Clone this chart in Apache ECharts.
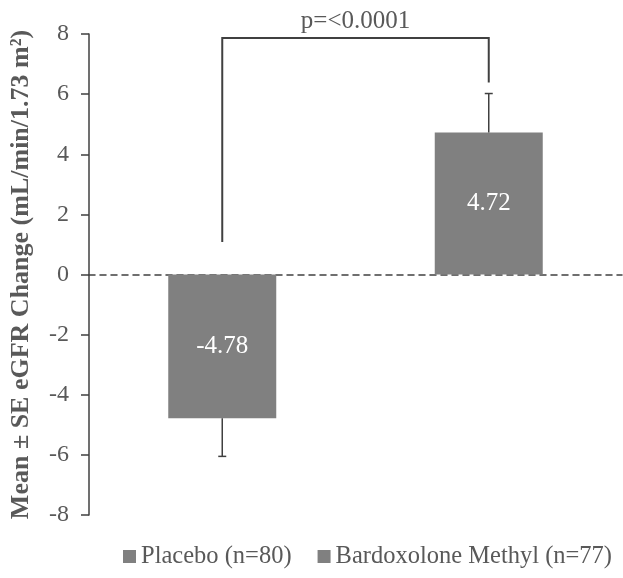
<!DOCTYPE html>
<html>
<head>
<meta charset="utf-8">
<script src="https://cdn.jsdelivr.net/npm/echarts@6/dist/echarts.min.js"></script>
<style>
  html, body { margin: 0; padding: 0; background: #fff; }
  #chart { width: 623px; height: 578px; }
</style>
</head>
<body>
<div id="chart"></div>
<script>
// categories / groups
const categories = ['Placebo (n=80)', 'Bardoxolone Methyl (n=77)']
// mean eGFR change
const means = [-4.78, 4.72]
// end of SE whisker
const seEnds = [-6.05, 6.02]
// significance bracket: left foot, top, right foot (y values)
const bracket = [1.08, 7.87, 6.39]
const pLabel = 'p=<0.0001'
const yTicks = { min: -8, max: 8, interval: 2 }

const serif = 'Liberation Serif'
const textGray = '#595959'
const lineGray = '#404040'
const barGray = '#808080'

const errData = means.map((m, i) => [i, m, seEnds[i]])

const options = {
  animation: false,
  grid: { left: 85, right: 1, top: 34, bottom: 63 },
  legend: {
    data: categories,
    left: 118,
    top: 539,
    width: 520,
    itemWidth: 13,
    itemHeight: 13,
    itemGap: 26,
    icon: 'rect',
    textStyle: { fontFamily: serif, fontSize: 24.5, color: textGray }
  },
  xAxis: {
    type: 'category',
    data: categories,
    axisLine: {
      onZero: true,
      lineStyle: { color: lineGray, width: 1.5, type: [6, 5] }
    },
    axisTick: { show: false },
    axisLabel: { show: false },
    splitLine: { show: false }
  },
  yAxis: {
    type: 'value',
    min: yTicks.min,
    max: yTicks.max,
    interval: yTicks.interval,
    name: 'Mean ± SE eGFR Change (mL/min/1.73 m²)',
    nameLocation: 'middle',
    nameGap: 55,
    nameTextStyle: { fontFamily: serif, fontSize: 26, fontWeight: 'bold', color: textGray },
    axisLine: { show: true, lineStyle: { color: lineGray, width: 1.5 } },
    axisTick: { show: true, length: 8, lineStyle: { color: lineGray, width: 1.5 } },
    axisLabel: { margin: 20, fontFamily: serif, fontSize: 24, color: textGray },
    splitLine: { show: false }
  },
  series: [
    {
      name: categories[0],
      type: 'bar',
      barWidth: 108,
      barGap: '-100%',
      itemStyle: { color: barGray },
      label: { show: true, position: 'inside', color: '#fff', fontFamily: serif, fontSize: 25 },
      data: [means[0], '-']
    },
    {
      name: categories[1],
      type: 'bar',
      barWidth: 108,
      barGap: '-100%',
      itemStyle: { color: barGray },
      label: { show: true, position: 'inside', color: '#fff', fontFamily: serif, fontSize: 25 },
      data: ['-', means[1]]
    },
    {
      // SE whiskers
      type: 'custom',
      z: 5,
      encode: { x: 0, y: [1, 2] },
      data: errData,
      renderItem: function (params, api) {
        const i = api.value(0)
        const a = api.coord([i, api.value(1)])
        const b = api.coord([i, api.value(2)])
        const st = { stroke: lineGray, lineWidth: 1.5 }
        return {
          type: 'group',
          children: [
            { type: 'line', shape: { x1: a[0], y1: a[1], x2: b[0], y2: b[1] }, style: st },
            { type: 'line', shape: { x1: b[0] - 4, y1: b[1], x2: b[0] + 4, y2: b[1] }, style: st }
          ]
        }
      }
    },
    {
      // significance bracket
      type: 'custom',
      z: 5,
      encode: { x: 0, y: [1, 2, 3] },
      data: [[0, bracket[0], bracket[1], bracket[2]]],
      renderItem: function (params, api) {
        const p1 = api.coord([0, api.value(1)])
        const p2 = api.coord([0, api.value(2)])
        const p3 = api.coord([1, api.value(2)])
        const p4 = api.coord([1, api.value(3)])
        return {
          type: 'group',
          children: [
            {
              type: 'polyline',
              shape: { points: [p1, p2, p3, p4] },
              style: { stroke: lineGray, lineWidth: 2, fill: null }
            },
            {
              type: 'text',
              x: (p2[0] + p3[0]) / 2,
              y: p2[1] - 4,
              style: {
                text: pLabel,
                fontFamily: serif,
                fontSize: 25,
                fill: textGray,
                align: 'center',
                verticalAlign: 'bottom'
              }
            }
          ]
        }
      }
    }
  ]
}

const chart = echarts.init(document.getElementById('chart'))
chart.setOption(options, true)
</script>
</body>
</html>
